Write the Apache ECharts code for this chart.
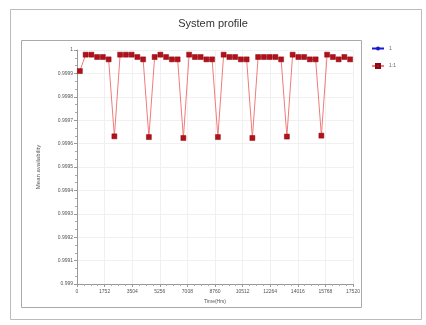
<!DOCTYPE html>
<html><head><meta charset="utf-8">
<script src="https://cdn.jsdelivr.net/npm/echarts@6/dist/echarts.min.js"></script>
<style>html,body{margin:0;padding:0;background:#fff}#c{width:426px;height:325px}</style>
</head><body><div id="c"></div>
<script>
var hours = [182.5,547.5,912.5,1277.5,1642.5,2007.5,2372.5,2737.5,3102.5,3467.5,3832.5,4197.5,4562.5,4927.5,5292.5,5657.5,6022.5,6387.5,6752.5,7117.5,7482.5,7847.5,8212.5,8577.5,8942.5,9307.5,9672.5,10037.5,10402.5,10767.5,11132.5,11497.5,11862.5,12227.5,12592.5,12957.5,13322.5,13687.5,14052.5,14417.5,14782.5,15147.5,15512.5,15877.5,16242.5,16607.5,16972.5,17337.5];
var availability = [0.99991,
 0.99998,0.99998,0.99997,0.99997,0.99996,0.999631,
 0.99998,0.99998,0.99998,0.99997,0.99996,0.999628,
 0.99997,0.99998,0.99997,0.99996,0.99996,0.999624,
 0.99998,0.99997,0.99997,0.99996,0.99996,0.999628,
 0.99998,0.99997,0.99997,0.99996,0.99996,0.999624,
 0.99997,0.99997,0.99997,0.99997,0.99996,0.99963,
 0.99998,0.99997,0.99997,0.99996,0.99996,0.999634,
 0.99998,0.99997,0.99996,0.99997,0.99996];
var series1 = [];
var seriesNames = ['1','1:1'];
var chartTitle = 'System profile';
var xName = 'Time(Hrs)';
var yName = 'Mean availability';

var pts = hours.map(function(h,i){return [h, availability[i]];});
var chart = echarts.init(document.getElementById('c'));
chart.setOption({
  animation:false,
  title:{text:chartTitle,left:'center',top:13,textStyle:{fontSize:11,fontWeight:'normal',color:'#333',fontFamily:'Liberation Sans, Arial'}},
  graphic:[
    {type:'rect',shape:{x:10.5,y:9.5,width:411,height:310},style:{fill:'none',stroke:'#bbb',lineWidth:1}},
    {type:'rect',shape:{x:21.5,y:40.5,width:340,height:267},style:{fill:'none',stroke:'#aaa',lineWidth:1}}
  ],
  legend:{orient:'vertical',left:366,top:41,itemWidth:12,itemHeight:5,itemGap:12,
    textStyle:{fontSize:5,color:'#666'},
    data:['1','1:1']},
  grid:{left:77,top:50,right:73,bottom:41},
  xAxis:{type:'value',min:0,max:17520,interval:1752,name:xName,nameLocation:'middle',nameGap:13,
    nameTextStyle:{fontSize:5,color:'#555'},
    axisLine:{lineStyle:{color:'#999'}},
    axisTick:{length:3,lineStyle:{color:'#999'}},
    minorTick:{show:true,splitNumber:4,length:2,lineStyle:{color:'#aaa'}},
    axisLabel:{fontSize:5,color:'#555',margin:5,formatter:function(v){return String(v);}},
    splitLine:{show:true,lineStyle:{color:'#f0f0f0'}}},
  yAxis:{type:'value',min:0.999,max:1,interval:0.0001,name:yName,nameLocation:'middle',nameGap:36,
    nameTextStyle:{fontSize:6,color:'#555'},
    axisLine:{show:true,lineStyle:{color:'#999'}},
    axisTick:{show:true,length:3,lineStyle:{color:'#999'}},
    minorTick:{show:true,splitNumber:3,length:2,lineStyle:{color:'#aaa'}},
    axisLabel:{fontSize:5,color:'#555',margin:4,formatter:function(v){return String(+v.toFixed(4));}},
    splitLine:{show:true,lineStyle:{color:'#f0f0f0'}}},
  series:[
    {name:seriesNames[0],type:'line',data:series1,symbol:'circle',symbolSize:5,
     itemStyle:{color:'#1a1acc'},lineStyle:{color:'#1a1acc',width:1}},
    {name:seriesNames[1],type:'line',data:pts,symbol:'rect',symbolSize:5,
     itemStyle:{color:'#b3101a',borderColor:'#8a0a10',borderWidth:0.5},
     lineStyle:{color:'#f07b7b',width:1}}
  ]
});
</script></body></html>
